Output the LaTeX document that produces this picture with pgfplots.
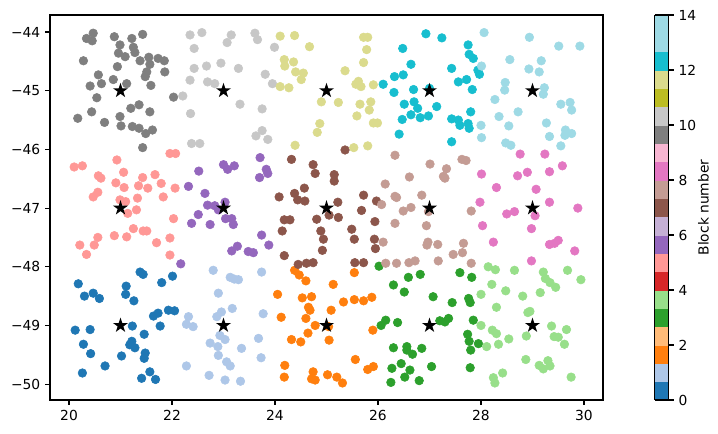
\documentclass[border=0pt]{standalone}
\usepackage{fontspec}
\setmainfont{DejaVu Sans}
\usepackage{pgfplots}
\pgfplotsset{compat=1.18}
\usetikzlibrary{calc}
\definecolor{c0}{HTML}{1F77B4}
\definecolor{c1}{HTML}{AEC7E8}
\definecolor{c2}{HTML}{FF7F0E}
\definecolor{c3}{HTML}{2CA02C}
\definecolor{c4}{HTML}{98DF8A}
\definecolor{c5}{HTML}{FF9896}
\definecolor{c6}{HTML}{9467BD}
\definecolor{c7}{HTML}{8C564B}
\definecolor{c8}{HTML}{C49C94}
\definecolor{c9}{HTML}{E377C2}
\definecolor{c10}{HTML}{7F7F7F}
\definecolor{c11}{HTML}{C7C7C7}
\definecolor{c12}{HTML}{DBDB8D}
\definecolor{c13}{HTML}{17BECF}
\definecolor{c14}{HTML}{9EDAE5}
\pgfdeclareplotmark{fstar}{%
  \pgfpathmoveto{\pgfpointpolar{90}{\pgfplotmarksize}}%
  \pgfpathlineto{\pgfpointpolar{126}{0.382\pgfplotmarksize}}%
  \pgfpathlineto{\pgfpointpolar{162}{\pgfplotmarksize}}%
  \pgfpathlineto{\pgfpointpolar{198}{0.382\pgfplotmarksize}}%
  \pgfpathlineto{\pgfpointpolar{234}{\pgfplotmarksize}}%
  \pgfpathlineto{\pgfpointpolar{270}{0.382\pgfplotmarksize}}%
  \pgfpathlineto{\pgfpointpolar{306}{\pgfplotmarksize}}%
  \pgfpathlineto{\pgfpointpolar{342}{0.382\pgfplotmarksize}}%
  \pgfpathlineto{\pgfpointpolar{18}{\pgfplotmarksize}}%
  \pgfpathlineto{\pgfpointpolar{54}{0.382\pgfplotmarksize}}%
  \pgfpathclose\pgfusepathqfill}
\begin{document}
\begin{tikzpicture}
\begin{axis}[
  name=main,
  scale only axis,
  width=398.16bp, height=277.2bp,
  xmin=19.631, xmax=30.369,
  ymin=-50.27, ymax=-43.71,
  xtick={20,22,24,26,28,30},
  xticklabels={20,22,24,26,28,30},
  ytick={-50,-49,-48,-47,-46,-45,-44},
  yticklabels={−50,−49,−48,−47,−46,−45,−44},
  xtick pos=bottom, ytick pos=left,
  tick align=outside,
  major tick length=3.5pt,
  tick style={black, line width=0.8pt},
  axis line style={line width=0.8pt},
  ticklabel style={font=\fontsize{10}{12}\selectfont},
  colorbar,
  colormap={tabtwenty}{rgb255=(31,119,180) rgb255=(174,199,232) rgb255=(255,127,14) rgb255=(255,187,120)
    rgb255=(44,160,44) rgb255=(152,223,138) rgb255=(214,39,40) rgb255=(255,152,150)
    rgb255=(148,103,189) rgb255=(197,176,213) rgb255=(140,86,75) rgb255=(196,156,148)
    rgb255=(227,119,194) rgb255=(247,182,210) rgb255=(127,127,127) rgb255=(199,199,199)
    rgb255=(188,189,34) rgb255=(219,219,141) rgb255=(23,190,207) rgb255=(158,218,229) rgb255=(158,218,229)},
  colormap access=piecewise constant,
  point meta min=0, point meta max=14,
  colorbar style={
    at={(parent axis.north east)}, anchor=north west, xshift=28.8bp,
    scale only axis, width=10.08bp,
    ytick={0,2,4,6,8,10,12,14},
    yticklabels={0,2,4,6,8,10,12,14},
    ytick pos=right,
    ylabel={Block number},
    ylabel shift=-5.5bp,
    ylabel style={font=\fontsize{10}{12}\selectfont},
    tick align=outside, major tick length=3.5pt,
    tick style={black, line width=0.8pt},
    axis line style={line width=0.8pt},
    ticklabel style={font=\fontsize{10}{12}\selectfont},
  },
  every axis plot/.append style={only marks, mark=*, mark size=3.1bp},
]
% block 0
\addplot[c0, mark options={draw=none, fill=c0}] coordinates {(20.18,-48.29)(20.30,-48.50)(20.47,-48.45)(20.59,-48.54)(21.11,-48.33)(21.10,-48.47)(21.26,-48.58)(21.38,-48.09)(21.44,-48.13)(21.80,-48.27)(22.01,-48.16)(21.93,-48.74)(22.05,-48.75)(21.64,-48.84)(21.73,-48.79)(21.77,-49.01)(21.23,-49.01)(21.46,-49.15)(20.12,-49.08)(20.41,-49.07)(20.28,-49.32)(20.42,-49.48)(21.22,-49.27)(21.18,-49.33)(21.28,-49.38)(21.48,-49.47)(21.46,-49.56)(21.02,-49.52)(20.70,-49.69)(20.26,-49.81)(21.57,-49.79)(21.41,-49.90)(21.68,-49.92)};
% block 1
\addplot[c1, mark options={draw=none, fill=c1}] coordinates {(22.32,-48.85)(22.28,-48.98)(22.41,-49.02)(22.28,-49.69)(22.80,-48.06)(23.13,-48.18)(23.21,-48.21)(23.29,-48.22)(23.74,-48.09)(22.90,-48.45)(23.17,-48.71)(22.96,-48.77)(22.87,-48.85)(23.77,-48.80)(22.93,-49.17)(23.03,-49.24)(22.74,-49.30)(22.89,-49.36)(23.68,-49.22)(23.35,-49.39)(22.90,-49.51)(23.73,-49.55)(23.06,-49.62)(23.13,-49.69)(22.72,-49.85)(23.03,-49.93)(23.33,-49.95)};
% block 2
\addplot[c2, mark options={draw=none, fill=c2}] coordinates {(24.38,-48.06)(24.47,-48.14)(24.60,-48.24)(24.05,-48.47)(24.53,-48.53)(24.71,-48.51)(24.65,-48.69)(24.68,-48.74)(24.12,-48.86)(24.60,-48.88)(24.78,-49.00)(24.64,-49.13)(24.32,-49.24)(24.50,-49.28)(24.19,-49.68)(24.18,-49.88)(24.74,-49.79)(24.71,-49.91)(24.78,-49.93)(25.54,-48.10)(25.13,-48.30)(25.33,-48.60)(25.54,-48.56)(25.72,-48.58)(25.88,-48.52)(25.09,-48.74)(25.04,-49.02)(25.05,-49.25)(25.90,-49.08)(25.56,-49.58)(25.80,-49.75)(25.91,-49.70)(25.02,-49.84)(25.20,-49.88)(25.31,-49.98)};
% block 3
\addplot[c3, mark options={draw=none, fill=c3}] coordinates {(26.02,-47.99)(26.30,-48.31)(26.51,-48.43)(26.59,-48.18)(26.82,-48.13)(27.07,-48.51)(27.44,-48.61)(26.06,-49.00)(26.15,-48.91)(26.38,-48.95)(27.20,-48.92)(27.37,-48.88)(27.30,-48.94)(26.30,-49.38)(26.56,-49.36)(26.56,-49.42)(26.67,-49.49)(26.85,-49.39)(26.27,-49.73)(26.45,-49.65)(26.62,-49.76)(26.52,-49.88)(27.04,-49.70)(26.25,-49.97)(26.80,-49.94)(27.59,-48.10)(27.82,-48.18)(27.76,-48.54)(27.79,-48.61)(27.85,-48.91)(27.74,-49.15)(27.77,-49.27)(27.95,-49.31)(27.80,-49.42)(27.79,-49.72)};
% block 4
\addplot[c4, mark options={draw=none, fill=c4}] coordinates {(28.14,-48.00)(28.28,-48.05)(28.65,-48.06)(29.21,-48.09)(29.68,-48.06)(29.94,-48.22)(29.25,-48.20)(29.34,-48.27)(29.45,-48.35)(28.21,-48.30)(28.48,-48.41)(29.15,-48.44)(28.81,-48.50)(28.00,-48.47)(28.30,-48.69)(28.91,-48.78)(28.95,-48.76)(29.37,-49.01)(29.66,-49.07)(28.00,-49.00)(28.22,-49.08)(28.30,-49.14)(28.54,-49.23)(28.88,-49.18)(29.42,-49.19)(29.50,-49.20)(29.62,-49.32)(28.11,-49.36)(28.34,-49.32)(28.87,-49.58)(29.13,-49.68)(29.21,-49.74)(29.30,-49.60)(29.34,-49.69)(28.42,-49.81)(28.24,-49.89)(28.27,-49.98)(29.75,-49.88)};
% block 5
\addplot[c5, mark options={draw=none, fill=c5}] coordinates {(20.10,-46.30)(20.26,-46.28)(20.93,-46.18)(21.06,-46.39)(20.57,-46.45)(20.62,-46.49)(20.91,-46.57)(21.07,-46.65)(21.43,-46.48)(21.67,-46.43)(21.79,-46.58)(21.35,-46.62)(21.53,-46.66)(22.06,-46.66)(20.47,-46.81)(20.56,-46.73)(20.99,-46.86)(21.10,-46.89)(21.33,-46.83)(21.83,-46.81)(21.31,-47.03)(21.14,-47.09)(22.03,-47.18)(21.96,-46.07)(22.07,-46.07)(21.25,-47.35)(21.44,-47.39)(21.51,-47.39)(20.88,-47.47)(21.12,-47.49)(20.56,-47.50)(20.49,-47.63)(20.21,-47.63)(20.34,-47.79)(21.70,-47.59)(21.96,-47.51)(21.96,-47.80)};
% block 6
\addplot[c6, mark options={draw=none, fill=c6}] coordinates {(22.32,-46.63)(22.38,-47.26)(22.17,-47.95)(22.52,-46.37)(23.00,-46.26)(23.08,-46.34)(23.21,-46.28)(23.71,-46.14)(23.83,-46.34)(23.70,-46.48)(23.86,-46.41)(22.64,-46.75)(22.69,-46.95)(22.83,-46.96)(22.90,-47.03)(23.03,-46.90)(22.51,-47.11)(23.04,-47.18)(23.16,-47.18)(23.19,-47.28)(22.74,-47.28)(23.74,-47.46)(23.88,-47.63)(23.27,-47.65)(23.16,-47.73)(23.48,-47.74)(23.58,-47.76)};
% block 7
\addplot[c7, mark options={draw=none, fill=c7}] coordinates {(24.32,-46.17)(24.74,-46.26)(24.78,-46.41)(24.57,-46.66)(24.38,-46.75)(24.44,-46.86)(24.58,-46.88)(24.08,-46.81)(24.81,-47.19)(24.18,-47.20)(24.29,-47.20)(24.14,-47.39)(24.89,-47.39)(24.94,-47.53)(24.92,-47.72)(24.18,-47.81)(24.45,-47.96)(24.61,-47.94)(24.74,-47.93)(25.36,-46.01)(25.15,-46.43)(25.15,-46.54)(25.72,-46.78)(25.97,-46.88)(25.22,-46.90)(25.68,-47.04)(25.05,-47.12)(25.23,-47.16)(25.94,-47.23)(25.49,-47.36)(25.54,-47.53)(25.93,-47.53)(25.95,-47.69)(25.55,-47.93)(25.72,-47.93)};
% block 8
\addplot[c8, mark options={draw=none, fill=c8}] coordinates {(26.33,-46.10)(27.01,-46.25)(27.33,-46.33)(27.27,-46.46)(27.30,-46.49)(26.61,-46.47)(26.14,-46.59)(26.85,-46.78)(26.33,-46.80)(26.36,-46.82)(26.07,-46.94)(26.49,-47.05)(26.64,-46.99)(26.98,-47.06)(26.33,-47.26)(26.94,-47.30)(26.10,-47.58)(26.97,-47.58)(26.95,-47.63)(27.16,-47.62)(27.46,-47.79)(27.64,-47.76)(27.63,-46.17)(27.71,-46.19)(26.15,-47.94)(26.36,-47.94)(26.60,-47.93)(26.72,-47.90)(27.17,-47.90)(27.81,-47.05)(27.66,-47.60)(27.81,-47.94)};
% block 9
\addplot[c9, mark options={draw=none, fill=c9}] coordinates {(28.76,-46.08)(29.24,-46.08)(28.01,-46.42)(28.71,-46.45)(28.90,-46.39)(29.33,-46.38)(29.58,-46.28)(28.30,-46.65)(29.07,-46.68)(27.98,-46.90)(29.33,-46.90)(29.88,-47.00)(28.50,-47.10)(28.65,-47.06)(29.05,-47.13)(28.98,-47.35)(28.03,-47.30)(28.24,-47.58)(29.33,-47.62)(29.43,-47.60)(29.50,-47.55)(29.82,-47.73)(28.98,-47.90)};
% block 10
\addplot[c10, mark options={draw=none, fill=c10}] coordinates {(20.34,-44.11)(20.47,-44.02)(20.45,-44.15)(20.88,-44.08)(21.22,-44.11)(21.43,-44.04)(20.99,-44.22)(21.25,-44.26)(20.96,-44.36)(21.09,-44.42)(21.28,-44.35)(20.28,-44.49)(21.38,-44.49)(21.55,-44.43)(21.73,-44.45)(21.85,-44.49)(21.57,-44.55)(20.94,-44.59)(20.57,-44.73)(21.51,-44.68)(21.48,-44.76)(21.86,-44.68)(20.41,-44.92)(20.63,-44.88)(20.86,-44.81)(21.12,-44.88)(21.59,-44.91)(20.54,-45.12)(22.03,-45.11)(21.20,-45.30)(21.36,-45.24)(20.44,-45.36)(21.57,-45.36)(20.17,-45.47)(20.69,-45.54)(20.99,-45.44)(21.01,-45.60)(21.23,-45.61)(21.36,-45.64)(21.49,-45.73)(21.62,-45.67)(21.43,-45.97)};
% block 11
\addplot[c11, mark options={draw=none, fill=c11}] coordinates {(22.35,-44.05)(22.43,-44.28)(22.43,-44.62)(22.35,-44.82)(22.21,-45.09)(22.36,-45.39)(22.38,-45.90)(22.58,-44.01)(23.15,-44.05)(23.07,-44.18)(23.61,-44.02)(23.66,-44.13)(23.99,-44.26)(22.67,-44.58)(22.95,-44.53)(23.29,-44.62)(23.81,-44.72)(22.69,-44.85)(22.83,-44.88)(23.95,-44.88)(23.32,-45.23)(23.75,-45.31)(23.75,-45.68)(23.63,-45.77)(23.86,-45.83)(22.54,-45.90)};
% block 12
\addplot[c12, mark options={draw=none, fill=c12}] coordinates {(24.10,-44.07)(24.38,-44.06)(24.67,-44.25)(24.18,-44.47)(24.36,-44.51)(24.19,-44.58)(24.40,-44.68)(24.55,-44.70)(24.51,-44.81)(24.10,-44.93)(24.27,-44.95)(24.90,-45.19)(24.87,-45.56)(24.82,-45.71)(24.39,-45.93)(25.72,-44.09)(25.80,-44.09)(25.78,-44.30)(25.72,-44.52)(25.36,-44.66)(25.62,-44.84)(25.57,-44.89)(25.67,-44.93)(25.91,-44.90)(25.23,-45.20)(25.86,-45.19)(25.65,-45.23)(25.83,-45.33)(25.59,-45.43)(25.91,-45.55)(25.99,-45.55)(25.53,-45.97)(25.80,-45.94)};
% block 13
\addplot[c13, mark options={draw=none, fill=c13}] coordinates {(26.93,-44.03)(27.24,-44.10)(26.48,-44.28)(26.64,-44.55)(27.43,-44.62)(27.56,-44.85)(26.10,-44.89)(26.32,-44.76)(26.49,-44.73)(26.31,-45.03)(26.69,-44.98)(27.00,-44.96)(26.51,-45.23)(26.70,-45.19)(26.77,-45.30)(27.14,-45.27)(26.64,-45.41)(26.82,-45.46)(26.98,-45.43)(26.47,-45.49)(27.43,-45.48)(27.56,-45.50)(27.59,-45.59)(26.41,-45.74)(27.43,-45.87)(27.75,-44.22)(27.77,-44.38)(27.85,-44.45)(27.94,-44.65)(27.97,-44.72)(27.72,-44.81)(27.83,-44.98)(27.80,-45.36)(27.75,-45.56)(27.77,-45.64)};
% block 14
\addplot[c14, mark options={draw=none, fill=c14}] coordinates {(28.06,-44.01)(28.94,-44.09)(29.51,-44.24)(29.92,-44.24)(28.56,-44.47)(29.17,-44.49)(28.93,-44.63)(29.13,-44.68)(28.01,-44.58)(28.47,-44.86)(28.46,-44.99)(29.23,-44.95)(29.21,-45.06)(28.27,-45.15)(29.55,-45.23)(29.73,-45.20)(29.76,-45.33)(28.72,-45.36)(28.35,-45.44)(29.27,-45.55)(28.54,-45.60)(28.00,-45.59)(29.64,-45.67)(29.76,-45.73)(29.63,-45.76)(29.33,-45.78)(28.01,-45.80)(28.48,-45.89)(28.58,-45.93)(29.55,-45.94)};
% centres
\addplot[black, mark=fstar, mark size=5.7bp, mark options={draw=none, fill=black}] coordinates {(21,-49)(23,-49)(25,-49)(27,-49)(29,-49)(21,-47)(23,-47)(25,-47)(27,-47)(29,-47)(21,-45)(23,-45)(25,-45)(27,-45)(29,-45)};
\end{axis}
\path ($(main.south west)+(-36bp,-24.48bp)$) rectangle ($(main.north east)+(82.8bp,10.8bp)$);
\end{tikzpicture}
\end{document}
